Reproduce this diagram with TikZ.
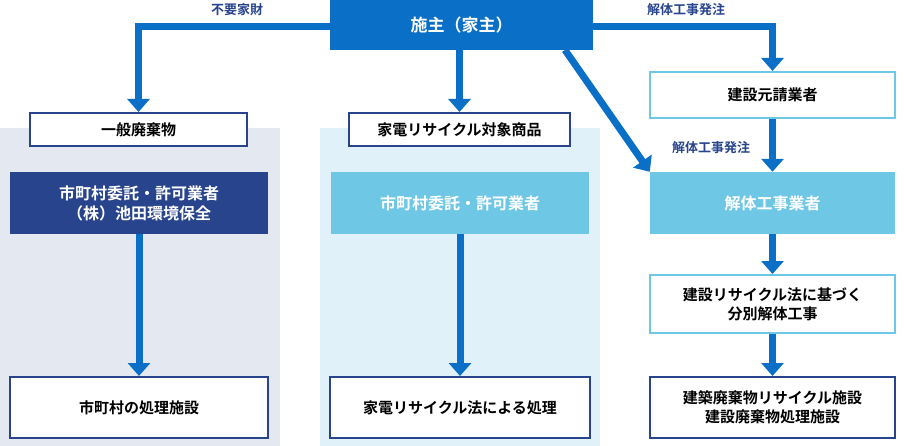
\documentclass[tikz,border=0pt]{standalone}
\usepackage{fontspec}
\setmainfont{Noto Sans CJK JP}[BoldFont={* Bold}]
\usetikzlibrary{arrows.meta}
\definecolor{mainblue}{HTML}{0A6FC6}
\definecolor{navy}{HTML}{27448C}
\definecolor{lblue}{HTML}{6FC7E6}
\definecolor{panelgray}{HTML}{E4E8F1}
\definecolor{panelblue}{HTML}{E1F1F9}
\begin{document}
\begin{tikzpicture}[x=1pt,y=-1pt,
  box/.style={draw=#1,line width=2pt,fill=white,minimum height=33pt,text=black,font=\bfseries\fontsize{15}{19}\selectfont,align=center},
  fbox/.style={fill=#1,text=white,minimum width=258pt,minimum height=62pt,font=\bfseries\fontsize{16}{20}\selectfont,align=center},
  arr/.style={draw=mainblue,line width=7pt,-{Triangle[length=13pt,width=22pt]}},
  lab/.style={text=navy,font=\bfseries\fontsize{13}{15}\selectfont}]
\useasboundingbox (0,0) rectangle (909,446);
\fill[panelgray] (0,128) rectangle (280,446);
\fill[panelblue] (320,128) rectangle (600,446);
\node[fill=mainblue,text=white,minimum width=263pt,minimum height=50pt,font=\bfseries\fontsize{17}{20}\selectfont] (owner) at (461.5,25) {施主（家主）};
\node[box=navy,minimum width=217pt] (ippan) at (138.5,129.5) {一般廃棄物};
\node[box=navy,minimum width=221pt] (kaden) at (459.5,129.5) {家電リサイクル対象商品};
\node[box=lblue,minimum width=245pt,minimum height=46pt] (moto) at (772.5,95) {建設元請業者};
\node[fbox=navy] (itaku1) at (139,203) {市町村委託・許可業者\\（株）池田環境保全};
\node[fbox=lblue] (itaku2) at (460,203) {市町村委託・許可業者};
\node[fbox=lblue,minimum width=245pt] (kaitai) at (772.5,203) {解体工事業者};
\node[box=lblue,minimum width=245pt,minimum height=58pt] (bunbetsu) at (772.5,304) {建設リサイクル法に基づく\\分別解体工事};
\node[box=navy,minimum width=258pt,minimum height=61pt] (shori1) at (139,407.5) {市町村の処理施設};
\node[box=navy,minimum width=260pt,minimum height=61pt] (shori2) at (460,407.5) {家電リサイクル法による処理};
\node[box=navy,minimum width=245pt,minimum height=61pt] (shisetsu) at (772.5,407.5) {建築廃棄物リサイクル施設\\建設廃棄物処理施設};
\draw[arr] (owner.west |- 0,27) -| (ippan.north);
\draw[arr] (owner.east |- 0,27) -| (moto.north);
\draw[arr] (owner.south -| kaden.north) -- (kaden.north);
\draw[arr] (565,50) -- (kaitai.north west);
\draw[arr] (moto) -- (kaitai);
\draw[arr] (kaitai) -- (bunbetsu);
\draw[arr] (bunbetsu) -- (shisetsu);
\draw[arr] (itaku1) -- (shori1);
\draw[arr] (itaku2) -- (shori2);
\node[lab] at (237,10) {不要家財};
\node[lab] at (686,10) {解体工事発注};
\node[lab] at (711,148) {解体工事発注};
\end{tikzpicture}
\end{document}
